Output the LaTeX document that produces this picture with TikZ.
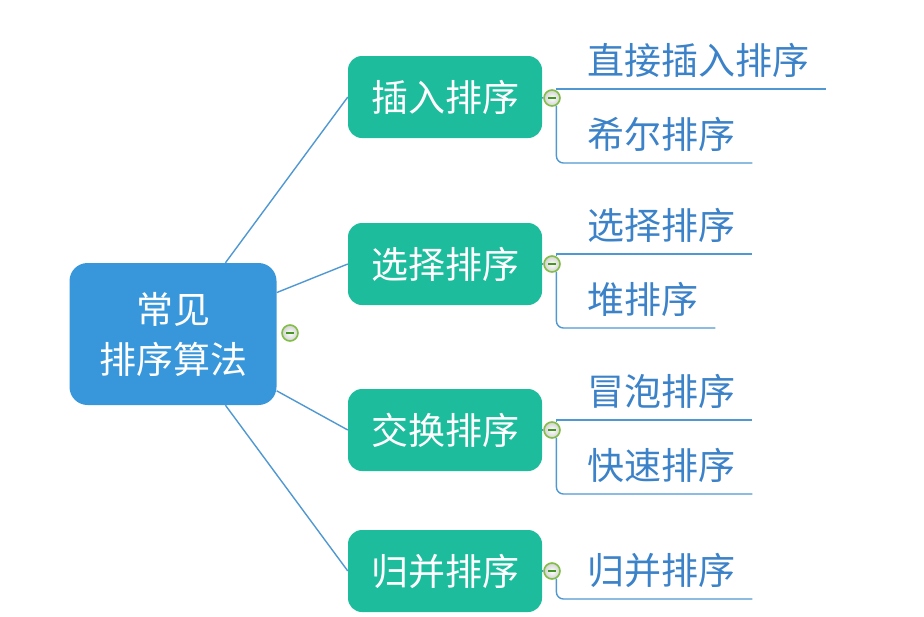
\documentclass[tikz,border=0pt]{standalone}
\usepackage{fontspec}
\newfontfamily\cjk{Noto Sans CJK SC}
\definecolor{rootblue}{RGB}{56,151,219}
\definecolor{branchgreen}{RGB}{28,188,156}
\definecolor{linkblue}{RGB}{80,152,210}
\definecolor{leaftext}{RGB}{60,130,200}
\definecolor{iconrim}{RGB}{130,190,70}
\definecolor{iconminus}{RGB}{70,150,35}
\tikzstyle{root}=[rectangle,rounded corners=18pt,fill=rootblue,text=white,minimum width=207pt,minimum height=142pt,align=center,font=\cjk\fontsize{37}{50}\selectfont]
\tikzstyle{branch}=[rectangle,rounded corners=14pt,fill=branchgreen,text=white,minimum width=194pt,minimum height=82pt,font=\cjk\fontsize{37}{42}\selectfont]
\tikzstyle{leaf}=[anchor=south west,text=leaftext,inner xsep=17pt,inner ysep=14pt,text depth=0pt,font=\cjk\fontsize{37}{42}\selectfont]
\tikzstyle{fold}=[circle,draw=iconrim,line width=1.6pt,inner color=white,outer color=black!18,minimum size=16pt,inner sep=0pt,path picture={\draw[iconminus,line width=1.8pt] ([xshift=4pt]path picture bounding box.west) -- ([xshift=-4pt]path picture bounding box.east);}]
\tikzstyle{link}=[linkblue,line width=1.4pt]

\begin{document}
\begin{tikzpicture}[x=1pt,y=-1pt]
\useasboundingbox (0,0) rectangle (924,616);
\node[root] at (173, 334) (r) {常见\\排序算法};
\node[fold] at (290, 333) (c0) {};
\node[branch] at (445, 97) (b1) {插入排序};
\node[branch] at (445, 264) (b2) {选择排序};
\node[branch] at (445, 430) (b3) {交换排序};
\node[branch] at (445, 571) (b4) {归并排序};
\node[fold] at (552, 98) (c1) {};
\node[fold] at (552, 264) (c2) {};
\node[fold] at (552, 430) (c3) {};
\node[fold] at (552, 571) (c4) {};
\node[leaf] at (570, 89) (l11) {直接插入排序};
\node[leaf] at (570, 163) (l12) {希尔排序};
\node[leaf] at (570, 254) (l21) {选择排序};
\node[leaf] at (570, 328) (l22) {堆排序};
\node[leaf] at (570, 420) (l31) {冒泡排序};
\node[leaf] at (570, 494) (l32) {快速排序};
\node[leaf] at (570, 599) (l41) {归并排序};
\draw[link] (r) -- (b1.west);
\draw[link] (r) -- (b2.west);
\draw[link] (r) -- (b3.west);
\draw[link] (r) -- (b4.west);
\draw[link] (b1) -- (c1);
\draw[link] (b2) -- (c2);
\draw[link] (b3) -- (c3);
\draw[link] (b4) -- (c4);
\draw[link] (c1.60) |- (l11.south east);
\draw[link, rounded corners=7pt] (c1.-60) |- (l12.south east);
\draw[link] (c2.60) |- (l21.south east);
\draw[link, rounded corners=7pt] (c2.-60) |- (l22.south east);
\draw[link] (c3.60) |- (l31.south east);
\draw[link, rounded corners=7pt] (c3.-60) |- (l32.south east);
\draw[link, rounded corners=7pt] (c4.-60) |- (l41.south east);
\end{tikzpicture}
\end{document}
